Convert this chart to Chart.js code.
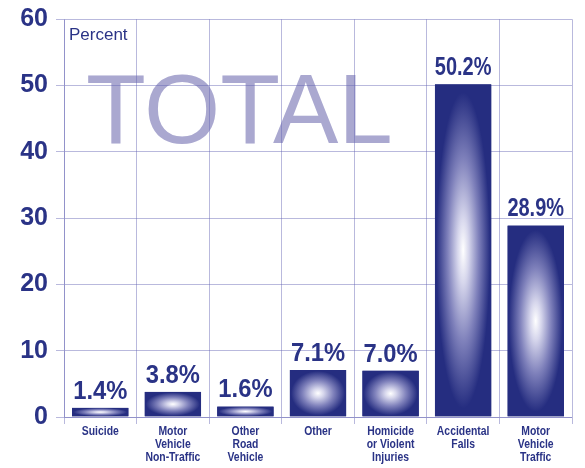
<!DOCTYPE html>
<html>
<head>
<meta charset="utf-8">
<script src="https://cdn.jsdelivr.net/npm/chart.js@4.4.0/dist/chart.umd.min.js"></script>
<style>
  html, body { margin: 0; padding: 0; background: #fff; }
  #wrap { width: 585px; height: 468px; }
</style>
</head>
<body>
<div id="wrap"><canvas id="myChart" width="585" height="468"></canvas></div>
<script>
// injury causes, share of total (percent)
const categories = [
  ['Suicide'],
  ['Motor', 'Vehicle', 'Non-Traffic'],
  ['Other', 'Road', 'Vehicle'],
  ['Other'],
  ['Homicide', 'or Violent', 'Injuries'],
  ['Accidental', 'Falls'],
  ['Motor', 'Vehicle', 'Traffic']
];
const percents = [1.4, 3.8, 1.6, 7.1, 7.0, 50.2, 28.9];
const yTicks = [0, 10, 20, 30, 40, 50, 60];

const navy = '#252d80';
const textNavy = '#2a3386';
const gridColor = 'rgba(100, 100, 180, 0.45)';
const sans = '"Liberation Sans", Arial, sans-serif';

// draw text squeezed horizontally (no condensed face available)
function squeezeText(ctx, text, x, y, sx) {
  ctx.save();
  ctx.translate(x, y);
  ctx.scale(sx, 1);
  ctx.fillText(text, 0, 0);
  ctx.restore();
}

// big "TOTAL" watermark + "Percent" caption, under the grid
const backdrop = {
  id: 'backdrop',
  beforeDraw(chart) {
    const ctx = chart.ctx;
    const area = chart.chartArea;
    ctx.save();
    ctx.fillStyle = '#aaa8d0';
    ctx.font = '98px ' + sans;
    ctx.textBaseline = 'alphabetic';
    ctx.fillText('TOTAL', area.left + 22, area.top + 124);
    ctx.fillStyle = textNavy;
    ctx.font = '17px ' + sans;
    ctx.fillText('Percent', area.left + 5, area.top + 21);
    ctx.restore();
  }
};

// shaded bars: elliptical white-to-navy glow, plus value labels
const glowBars = {
  id: 'glowBars',
  afterDatasetsDraw(chart) {
    const ctx = chart.ctx;
    const meta = chart.getDatasetMeta(0);
    meta.data.forEach((bar, i) => {
      const p = bar.getProps(['x', 'y', 'base', 'width'], true);
      const left = p.x - p.width / 2;
      const h = p.base - p.y;
      ctx.save();
      ctx.beginPath();
      ctx.rect(left, p.y, p.width, h);
      ctx.clip();
      ctx.fillStyle = navy;
      ctx.fillRect(left, p.y, p.width, h);
      ctx.translate(p.x, p.y + h / 2);
      ctx.scale(p.width / 2, h / 2);
      const g = ctx.createRadialGradient(0, 0, 0, 0, 0, 1);
      g.addColorStop(0, '#ffffff');
      g.addColorStop(0.2, '#d6d6ec');
      g.addColorStop(0.55, '#7f81bb');
      g.addColorStop(0.95, navy);
      g.addColorStop(1, navy);
      ctx.fillStyle = g;
      ctx.fillRect(-1, -1, 2, 2);
      ctx.restore();

      // value label, squeezed to fit over the bar
      ctx.save();
      ctx.fillStyle = textNavy;
      ctx.font = 'bold 25px ' + sans;
      ctx.textAlign = 'center';
      ctx.textBaseline = 'alphabetic';
      const label = percents[i].toFixed(1) + '%';
      const sx = Math.min(0.95, p.width / ctx.measureText(label).width);
      squeezeText(ctx, label, p.x, p.y - 9, sx);
      ctx.restore();
    });
  },
  // category names under the axis, condensed
  afterDraw(chart) {
    const ctx = chart.ctx;
    const xs = chart.scales.x;
    const bottom = chart.chartArea.bottom;
    ctx.save();
    ctx.fillStyle = textNavy;
    ctx.font = 'bold 13px ' + sans;
    ctx.textAlign = 'center';
    ctx.textBaseline = 'alphabetic';
    categories.forEach((lines, i) => {
      const x = xs.getPixelForTick(i);
      lines.forEach((line, k) => {
        squeezeText(ctx, line, x, bottom + 18 + k * 13, 0.8);
      });
    });
    ctx.restore();
  }
};

const ctx = document.getElementById('myChart').getContext('2d');

const myChart = new Chart(ctx, {
  type: 'bar',
  data: {
    labels: categories,
    datasets: [{
      data: percents,
      backgroundColor: 'rgba(0,0,0,0)',
      borderWidth: 0,
      categoryPercentage: 1,
      barPercentage: 0.78
    }]
  },
  options: {
    responsive: false,
    animation: false,
    layout: { padding: { top: 19, right: 13, bottom: 0, left: 0 } },
    plugins: {
      legend: { display: false },
      tooltip: { enabled: false }
    },
    scales: {
      x: {
        afterFit(scale) { scale.height = 51; },
        grid: { color: gridColor, tickLength: 7, offset: true },
        border: { color: gridColor },
        ticks: { display: false }
      },
      y: {
        min: 0,
        max: 60,
        afterFit(scale) { scale.width = 64; },
        afterBuildTicks(scale) { scale.ticks = yTicks.map(v => ({ value: v })); },
        grid: { color: gridColor, tickLength: 8 },
        border: { color: gridColor },
        ticks: {
          color: textNavy,
          font: { family: sans, size: 25, weight: 'bold', lineHeight: 0.9 },
          padding: 8
        }
      }
    }
  },
  plugins: [backdrop, glowBars]
});
</script>
</body>
</html>
